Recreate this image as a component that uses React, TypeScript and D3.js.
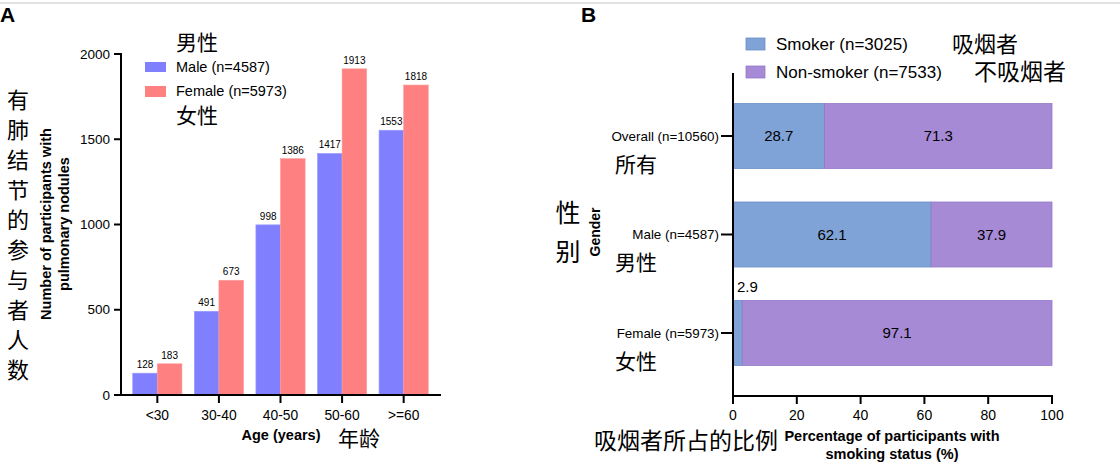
import * as d3 from "d3";

const W = 1120;
const H = 471;
const LATIN = "'Liberation Sans', Arial, sans-serif";
const CJK = "'Noto Sans CJK SC', sans-serif";

// panel A data
const ageGroups = ["<30", "30-40", "40-50", "50-60", ">=60"];
const maleCounts = [128, 491, 998, 1417, 1553];
const femaleCounts = [183, 673, 1386, 1913, 1818];
const countTicks = [0, 500, 1000, 1500, 2000];

// panel B data
const genderGroups = ["Overall (n=10560)", "Male (n=4587)", "Female (n=5973)"];
const genderCn = ["所有", "男性", "女性"];
const smokerPct = [28.7, 62.1, 2.9];
const nonSmokerPct = [71.3, 37.9, 97.1];
const pctTicks = [0, 20, 40, 60, 80, 100];

const MALE = "#8080ff";
const FEMALE = "#ff8080";
const SMOKER = "#7fa3d6";
const NONSMOKER = "#a68ad5";

const PanelA = () => {
  const x = d3.scalePoint().domain(ageGroups).range([121, 440]).padding(0.59);
  const y = d3.scaleLinear().domain([0, 2000]).range([395, 54]);
  const barW = 24.6;

  return (
    <g>
      <text x={0} y={22} fontFamily={LATIN} fontWeight="bold" fontSize={21}>A</text>

      {/* chinese y title */}
      {"有肺结节的参与者人数".split("").map((c, i) => (
        <text key={i} x={18} y={100 + i * 30} dy="0.36em" textAnchor="middle" fontFamily={CJK} fontSize={22}>
          {c}
        </text>
      ))}
      <text transform="translate(46,224) rotate(-90)" textAnchor="middle" dy="0.35em" fontFamily={LATIN} fontWeight="bold" fontSize={14.5}>
        Number of participants with
      </text>
      <text transform="translate(64,224) rotate(-90)" textAnchor="middle" dy="0.35em" fontFamily={LATIN} fontWeight="bold" fontSize={14.5}>
        pulmonary nodules
      </text>

      {ageGroups.map((g, i) => {
        const cx = x(g) ?? 0;
        return (
          <g key={g}>
            <rect x={cx - barW} y={y(maleCounts[i])} width={barW} height={y(0) - y(maleCounts[i])} fill={MALE} stroke="#9a9aff" strokeWidth={0.6} />
            <rect x={cx} y={y(femaleCounts[i])} width={barW} height={y(0) - y(femaleCounts[i])} fill={FEMALE} stroke="#ff9a9a" strokeWidth={0.6} />
            <text x={cx - barW / 2} y={y(maleCounts[i]) - 5} textAnchor="middle" fontFamily={LATIN} fontSize={10}>
              {maleCounts[i]}
            </text>
            <text x={cx + barW / 2} y={y(femaleCounts[i]) - 5} textAnchor="middle" fontFamily={LATIN} fontSize={10}>
              {femaleCounts[i]}
            </text>
            <line x1={cx} x2={cx} y1={395} y2={403} stroke="#000" strokeWidth={2} />
            <text x={cx} y={415} dy="0.35em" textAnchor="middle" fontFamily={LATIN} fontSize={13.8}>
              {g}
            </text>
          </g>
        );
      })}

      {countTicks.map((t) => (
        <g key={t}>
          <line x1={114} x2={121} y1={y(t)} y2={y(t)} stroke="#000" strokeWidth={2} />
          <text x={110} y={y(t)} dy="0.35em" textAnchor="end" fontFamily={LATIN} fontSize={13.5}>
            {t}
          </text>
        </g>
      ))}
      <line x1={121} x2={121} y1={53} y2={396} stroke="#000" strokeWidth={2} />
      <line x1={120} x2={441} y1={395} y2={395} stroke="#000" strokeWidth={2} />

      <text x={281} y={435} dy="0.35em" textAnchor="middle" fontFamily={LATIN} fontWeight="bold" fontSize={14.5}>
        Age (years)
      </text>
      <text x={338} y={438} dy="0.36em" fontFamily={CJK} fontSize={21}>年龄</text>

      {/* legend */}
      <text x={176} y={42} dy="0.36em" fontFamily={CJK} fontSize={21}>男性</text>
      <rect x={145} y={62} width={21} height={10} fill={MALE} />
      <text x={176} y={67} dy="0.35em" fontFamily={LATIN} fontSize={14.5}>Male (n=4587)</text>
      <rect x={145} y={86} width={21} height={11} fill={FEMALE} />
      <text x={176} y={91} dy="0.35em" fontFamily={LATIN} fontSize={14.5}>Female (n=5973)</text>
      <text x={176} y={115} dy="0.36em" fontFamily={CJK} fontSize={21}>女性</text>
    </g>
  );
};

const PanelB = () => {
  const x = d3.scaleLinear().domain([0, 100]).range([733, 1052]);
  const y = d3.scaleBand().domain(genderGroups).range([73, 396]).paddingInner(0.34).paddingOuter(0.31);
  const bh = y.bandwidth();

  return (
    <g>
      <text x={581} y={22} fontFamily={LATIN} fontWeight="bold" fontSize={21}>B</text>

      {/* legend */}
      <rect x={746} y={38} width={19} height={12} fill={SMOKER} stroke="#6a8fc8" strokeWidth={0.8} />
      <text x={776} y={44} dy="0.35em" fontFamily={LATIN} fontSize={17}>Smoker (n=3025)</text>
      <text x={952} y={44} dy="0.36em" fontFamily={CJK} fontSize={22}>吸烟者</text>
      <rect x={746} y={66} width={19} height={12} fill={NONSMOKER} stroke="#9478c8" strokeWidth={0.8} />
      <text x={776} y={72} dy="0.35em" fontFamily={LATIN} fontSize={17}>Non-smoker (n=7533)</text>
      <text x={974} y={72} dy="0.36em" fontFamily={CJK} fontSize={23}>不吸烟者</text>

      {genderGroups.map((g, i) => {
        const top = y(g) ?? 0;
        const cy = top + bh / 2;
        const s = smokerPct[i];
        const n = nonSmokerPct[i];
        return (
          <g key={g}>
            <rect x={x(0)} y={top} width={x(s) - x(0)} height={bh} fill={SMOKER} stroke="#6a8fc8" strokeWidth={0.8} />
            <rect x={x(s)} y={top} width={x(s + n) - x(s)} height={bh} fill={NONSMOKER} stroke="#9478c8" strokeWidth={0.8} />
            {s > 10 ? (
              <text x={(x(0) + x(s)) / 2} y={cy} dy="0.35em" textAnchor="middle" fontFamily={LATIN} fontSize={15}>
                {s}
              </text>
            ) : (
              <text x={x(0) + 4} y={top - 8} fontFamily={LATIN} fontSize={15}>
                {s}
              </text>
            )}
            <text x={(x(s) + x(s + n)) / 2} y={cy} dy="0.35em" textAnchor="middle" fontFamily={LATIN} fontSize={15}>
              {n}
            </text>
            <line x1={721} x2={733} y1={cy} y2={cy} stroke="#000" strokeWidth={2} />
            <text x={719} y={cy} dy="0.35em" textAnchor="end" fontFamily={LATIN} fontSize={13.4}>
              {g}
            </text>
            <text x={615} y={cy + 28} dy="0.36em" fontFamily={CJK} fontSize={21}>
              {genderCn[i]}
            </text>
          </g>
        );
      })}

      {pctTicks.map((t) => (
        <g key={t}>
          <line x1={x(t)} x2={x(t)} y1={396} y2={404} stroke="#000" strokeWidth={2} />
          <text x={x(t)} y={415} dy="0.35em" textAnchor="middle" fontFamily={LATIN} fontSize={14}>
            {t}
          </text>
        </g>
      ))}
      <line x1={733} x2={733} y1={73} y2={397} stroke="#000" strokeWidth={2} />
      <line x1={732} x2={1053} y1={396} y2={396} stroke="#000" strokeWidth={2} />

      <text x={568} y={213} dy="0.36em" textAnchor="middle" fontFamily={CJK} fontSize={25}>性</text>
      <text x={568} y={252} dy="0.36em" textAnchor="middle" fontFamily={CJK} fontSize={25}>别</text>
      <text transform="translate(595,232) rotate(-90)" textAnchor="middle" dy="0.35em" fontFamily={LATIN} fontWeight="bold" fontSize={14}>
        Gender
      </text>

      <text x={594} y={441} dy="0.36em" fontFamily={CJK} fontSize={23}>吸烟者所占的比例</text>
      <text x={892} y={436} dy="0.35em" textAnchor="middle" fontFamily={LATIN} fontWeight="bold" fontSize={14.5}>
        Percentage of participants with
      </text>
      <text x={892} y={454} dy="0.35em" textAnchor="middle" fontFamily={LATIN} fontWeight="bold" fontSize={14.5}>
        smoking status (%)
      </text>
    </g>
  );
};

export default function App() {
  return (
    <div style={{ position: "absolute", left: 0, top: 0 }}>
      <svg width={W} height={H} style={{ display: "block", background: "#fff" }}>
        <line x1={0} x2={W} y1={3} y2={3} stroke="#e2e2e2" strokeWidth={2} />
        <PanelA />
        <PanelB />
      </svg>
    </div>
  );
}
